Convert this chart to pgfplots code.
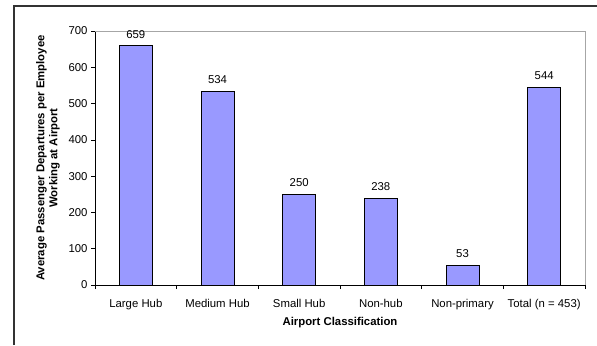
\documentclass[border=0pt]{standalone}
\usepackage{pgfplots}
\pgfplotsset{compat=1.18}
\usepackage{fontspec}
\setmainfont{Liberation Sans}
\definecolor{barblue}{HTML}{9999FF}
\definecolor{framegray}{HTML}{333333}
\definecolor{boxgray}{HTML}{A6A6A6}
\newcommand{\cf}{\fontsize{11.4}{13}\selectfont}
\begin{document}
\begin{tikzpicture}[x=1bp,y=1bp]
\useasboundingbox (0,0) rectangle (597,345);
\draw[framegray, line width=2bp] (14,0) -- (14,339) -- (597,339);
\begin{axis}[
  at={(95bp,60bp)}, anchor=south west,
  scale only axis, width=490bp, height=254bp,
  xmin=-0.5, xmax=5.5, ymin=0, ymax=700,
  axis x line*=bottom, axis y line*=left,
  axis line style={black, line width=0.9bp},
  ybar, bar width=33bp,
  xtick={0,...,5},
  xticklabels={Large Hub, Medium Hub, Small Hub, Non-hub, Non-primary, Total (n = 453)},
  major x tick style={draw=none},
  minor xtick={-0.5,0.5,...,5.5},
  minor x tick style={black, line width=0.7bp},
  minor tick length=4bp,
  ytick={0,100,...,700},
  y tick style={black, line width=0.7bp},
  major tick length=4bp,
  tick align=outside,
  tick label style={font=\cf},
  /pgf/number format/assume math mode=true,
  xticklabel style={yshift=-7bp},
  xlabel={\textbf{Airport Classification}},
  xlabel style={font=\cf, yshift=0bp},
  ylabel={\textbf{Average Passenger Departures per Employee}\\\textbf{Working at Airport}},
  ylabel style={font=\cf, align=center, yshift=2bp},
  nodes near coords,
  nodes near coords style={font=\cf, yshift=4bp, black},
  clip=false,
]
\addplot[fill=barblue, draw=black, line width=0.8bp] coordinates {(0,659) (1,534) (2,250) (3,238) (4,53) (5,544)};
\draw[boxgray, line width=1bp] (rel axis cs:0,1) -- (rel axis cs:1,1) -- (rel axis cs:1,0);
\end{axis}
\end{tikzpicture}
\end{document}
